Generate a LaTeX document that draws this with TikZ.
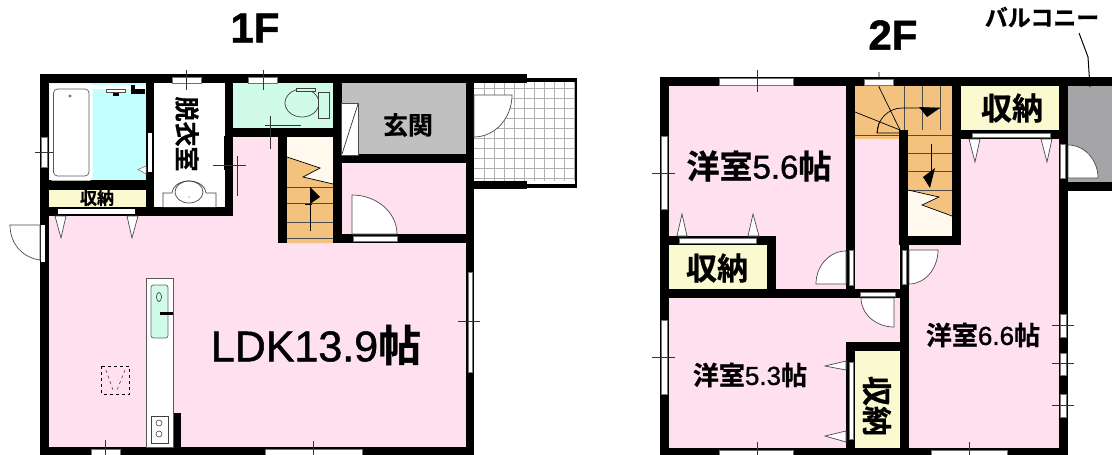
\documentclass[tikz,border=0pt]{standalone}
\usepackage{fontspec}
\setmainfont{Liberation Sans}
\newfontfamily\jpfont{Noto Sans CJK JP}[BoldFont={Noto Sans CJK JP Bold},BoldFeatures={FakeBold=0.7}]
\newfontfamily\latfont{Liberation Sans}[FakeBold=1.2]
\usetikzlibrary{calc}
\definecolor{pinkroom}{HTML}{FEE0EE}
\definecolor{bathblue}{HTML}{C4FFFF}
\definecolor{toiletgreen}{HTML}{D0FBE8}
\definecolor{creamroom}{HTML}{FBF9CF}
\definecolor{stairorange}{HTML}{F4C27F}
\definecolor{staircream}{HTML}{FFF9EE}
\definecolor{hallgray}{HTML}{C0C0C0}
\definecolor{balcgray}{HTML}{A5A5A8}
\definecolor{tilegray}{HTML}{B0B0B0}
\tikzset{
  wall/.style={fill=black},
  strip/.style={fill=white,draw=black!55,line width=.4pt},
  fine/.style={draw=black!75,line width=.7pt},
  sash/.style={draw=black!80,line width=.8pt},
  leaf/.style={fill=white,draw=black!70,line width=.7pt},
  treadline/.style={draw=black!70,line width=.7pt},
  jp/.style={font=\jpfont\bfseries\fontsize{#1}{#1}\selectfont,inner sep=0pt},
  lat/.style={font=\latfont\fontsize{#1}{#1}\selectfont,inner sep=0pt},
}
\newcommand\doorleaf[6]{%
  \path[leaf] (#1,#2) -- (#3,#4) .. controls ($(#3,#4)+0.55*(#5,#6)-0.55*(#1,#2)$) and ($(#5,#6)+0.55*(#3,#4)-0.55*(#1,#2)$) .. (#5,#6) -- cycle;}
\newcommand\tip[6]{\path[leaf] (#1,#2) -- (#3,#4) -- (#5,#6) -- cycle;}
\begin{document}
\begin{tikzpicture}[x=1pt,y=-1pt]
\useasboundingbox (0,0) rectangle (1112,455);
\fill[white] (0,0) rectangle (1112,455);
% ---------- 1F fills
\fill[pinkroom] (40,216) rectangle (470,450);
\fill[pinkroom] (225,130) rectangle (285,220);
\fill[pinkroom] (338,160) rectangle (470,238);
\fill[bathblue] (49,83) rectangle (146,180);
\fill[white] (154,83) rectangle (225,207);
\fill[toiletgreen] (233,83) rectangle (333,128);
\fill[hallgray] (342,83) rectangle (466,154);
\fill[creamroom] (48,190) rectangle (146,207);
\fill[staircream] (287,137) rectangle (333,190);
\fill[stairorange] (287,157) -- (320,168) -- (303,177) -- (333,184) -- (333,243) -- (287,243) -- cycle;
% tile terrace
\fill[white] (474,80) rectangle (577,186);
\foreach \gx in {484,494,...,574} \draw[tilegray,line width=.7pt] (\gx,82) -- (\gx,181);
\foreach \gy in {88,98,...,178} \draw[tilegray,line width=.7pt] (474,\gy) -- (575,\gy);
% ---------- 1F walls
\fill[wall] (40,74) rectangle (527,83);
\fill[wall] (527,78) rectangle (577,82);
\fill[wall] (575,78) rectangle (577,188);
\fill[wall] (527,184) rectangle (577,188);
\fill[wall] (474,181) rectangle (527,189);
\fill[wall] (466,74) rectangle (474,455);
\fill[wall] (40,74) rectangle (49,455);
\fill[wall] (40,447) rectangle (474,455);
\fill[wall] (40,180) rectangle (154,190);
\fill[wall] (40,207) rectangle (233,216);
\fill[wall] (146,74) rectangle (154,216);
\fill[wall] (225,74) rectangle (233,216);
\fill[wall] (224,136) rectangle (233,170);
\fill[wall] (225,128) rectangle (342,137);
\fill[wall] (333,74) rectangle (342,243);
\fill[wall] (335,154) rectangle (466,163);
\fill[wall] (335,234) rectangle (474,243);
\fill[wall] (278,137) rectangle (287,243);
\fill[wall] (173,413) rectangle (181,447);
% ---------- 1F stairs
\draw[treadline,draw=black] (287,157) -- (320,168) -- (303,177) -- (333,184);
\foreach \ty in {187,203,222,238} \draw[treadline] (287,\ty) -- (333,\ty);
\draw[black,line width=.8pt] (310,187) -- (310,231);
\fill[black] (310,187) -- (320,197) -- (310,204) -- cycle;
\draw[black,line width=.8pt] (305,204) -- (312,204);
% ---------- 1F bath
\draw[white,line width=1pt,fill=white,rounded corners=2pt] (50,84) rectangle (92,180);
\draw[black!65,line width=.7pt,rounded corners=4pt] (53.5,89) rectangle (89,176);
\fill[black!55] (70,96) circle (1.6);
\fill[white] (92,85) rectangle (146,89);
\fill[black] (113,90) rectangle (119,96);
\draw[black!70,fill=white,line width=.5pt] (106,89) rectangle (125,92);
\fill[black] (131,85) rectangle (145,94);
\fill[white] (135,85) rectangle (145,89);
\fill[white] (148,133) rectangle (152,172);
\path[fill=white,draw=black!60,line width=.5pt] (146,166) -- (138,169.5) -- (146,174) -- cycle;
\fill[white] (58,209) rectangle (135,214);
% window strips 1F
\path[strip] (172,77) rectangle (201,83);
\path[strip] (248,77) rectangle (277,83);
\path[strip] (41,137) rectangle (47,167);
\draw[sash] (186,70) -- (186,90);
\draw[sash] (263,70) -- (263,90);
\draw[sash] (35,152) -- (53,152);
\draw[sash] (270,116) -- (270,149);
\draw[sash] (265,125) -- (301,125);
\draw[sash] (213,165) -- (246,165);
\draw[sash] (237,156) -- (237,196);
% washbasin
\draw[fine,fill=white] (163,207) -- (163,193) -- (172,193) .. controls (174,177) and (204,177) .. (206,193) -- (216,193) -- (216,207);
\draw[fine] (189,192) ellipse (14 and 11);
\fill[black!70] (189,197) circle (.6);
% toilet
\draw[fine,fill=toiletgreen] (302,103) ellipse (17 and 14);
\draw[fine,fill=toiletgreen] (318,92) rectangle (329,118);
\draw[fine,fill=toiletgreen] (296,88) rectangle (315,91);
% shoe rack
\draw[black!70,line width=.6pt,fill=white] (341,103) rectangle (358,155);
\draw[black!80,line width=.7pt] (358,104) -- (342,154);
% doors 1F
\doorleaf{474}{95}{512}{95}{474}{137}
\path[strip] (353,236) rectangle (397,241);
\doorleaf{352}{234}{352}{195}{397}{234}
\fill[white] (41,225) rectangle (45,262);
\path[leaf] (40,225) -- (10,225) .. controls (10,245) and (24,258) .. (40,260) -- cycle;
% closet door tips 1F
\tip{55}{216}{66}{216}{61}{238}
\tip{127}{216}{138}{216}{132}{238}
% right and bottom windows 1F
\path[strip] (468,272) rectangle (472,372);
\draw[sash] (458,321) -- (480,321);
\path[strip] (91,449) rectangle (120,455);
\draw[sash] (105.5,440) -- (105.5,455);
\path[strip] (265,449) rectangle (362,455);
\draw[sash] (313,441) -- (313,455);
% kitchen
\draw[black!65,line width=.8pt,fill=white] (146,278) rectangle (173,447);
\draw[black!60,line width=.7pt,fill=toiletgreen,rounded corners=2.5pt] (151,285) rectangle (168,338);
\draw[fine] (159,297) ellipse (2.5 and 4.5);
\draw[black,line width=3pt] (160,313) -- (173,313);
\draw[black!75,line width=.8pt] (151,416) rectangle (168,443);
\draw[black!75,line width=.6pt] (159,423) circle (3);
\draw[black!75,line width=.6pt] (159,434) circle (3);
\draw[black,dashed,line width=1pt] (101.5,366) rectangle (129,394);
\draw[black!70,dashed,line width=.6pt] (106,370) -- (113,390) (125,370) -- (117,390);
% ---------- 2F fills
\fill[pinkroom] (669,86) rectangle (846,290);
\fill[pinkroom] (669,298) rectangle (900,448);
\fill[pinkroom] (855,139) rectangle (899,290);
\fill[pinkroom] (909,245) rectangle (1059,448);
\fill[pinkroom] (961,139) rectangle (1059,250);
\fill[creamroom] (669,245) rectangle (767,289);
\fill[creamroom] (961,86) rectangle (1059,130);
\fill[creamroom] (855,351) rectangle (900,448);
\fill[balcgray] (1068,86) rectangle (1112,182);
\fill[stairorange] (855,86) rectangle (952,139);
\fill[staircream] (908,185) rectangle (952,236);
\fill[stairorange] (908,135) -- (952,135) -- (952,216) -- (922,205) -- (939,197) -- (908,190) -- cycle;
% ---------- 2F walls
\fill[wall] (660,77) rectangle (1112,86);
\fill[wall] (660,77) rectangle (669,455);
\fill[wall] (660,448) rectangle (1068,455);
\fill[wall] (846,77) rectangle (855,298);
\fill[wall] (899,130) rectangle (908,245);
\fill[wall] (900,236) rectangle (961,245);
\fill[wall] (900,245) rectangle (909,455);
\fill[wall] (952,77) rectangle (961,245);
\fill[wall] (952,130) rectangle (1068,139);
\fill[wall] (1059,77) rectangle (1068,455);
\fill[wall] (1068,182) rectangle (1112,191);
\fill[wall] (660,236) rectangle (776,245);
\fill[wall] (767,236) rectangle (776,298);
\fill[wall] (660,289) rectangle (909,298);
\fill[wall] (846,342) rectangle (855,455);
\fill[wall] (846,342) rectangle (909,351);
% ---------- 2F stairs
\draw[treadline] (855,135) -- (899,135);
\foreach \ty in {135,153,171,190} \draw[treadline] (908,\ty) -- (952,\ty);
\foreach \tx in {904,922,940} \draw[treadline] (\tx,86) -- (\tx,130);
\draw[black,line width=.7pt] (879,72) -- (879,87) -- (900,130);
\draw[black,line width=.7pt] (855,112) -- (900,130);
\draw[black,line width=.7pt] (879,123) -- (877,133) -- (899,133);
\draw[black,line width=.7pt] (877,133) .. controls (877,120) and (888,108) .. (902,108) -- (940,108);
\fill[black] (919,107) -- (940,108) -- (927,117) -- cycle;
\draw[black,line width=.7pt] (931,144) -- (931,172);
\fill[black] (935,168) -- (923,177) -- (930,188) -- cycle;
\draw[black,line width=.7pt] (908,190) -- (939,197) -- (922,205) -- (952,216);
% windows 2F
\path[strip] (719,78) rectangle (793,85);
\draw[sash] (757,70) -- (757,92);
\path[strip] (864,79) rectangle (893,85);
\path[strip] (661,136) rectangle (667,209);
\draw[sash] (652,173) -- (675,173);
\path[strip] (661,320) rectangle (667,394);
\draw[sash] (652,357) -- (675,357);
\path[strip] (719,450) rectangle (793,455);
\draw[sash] (757,442) -- (757,455);
\path[strip] (931,450) rectangle (1007,455);
\draw[sash] (969,442) -- (969,455);
\foreach \ya/\yb/\yc in {314/337/325,353/375/363,394/417/405}{
  \path[strip] (1060,\ya) rectangle (1066,\yb);
  \draw[sash] (1052,\yc) -- (1074,\yc);
}
% closet strips and tips 2F
\path[strip] (679,238) rectangle (756,243);
\tip{677}{236}{687}{236}{682}{214}
\tip{748}{236}{759}{236}{753}{214}
\path[strip] (972,133) rectangle (1050,137);
\tip{969}{139}{980}{139}{975}{162}
\tip{1041}{139}{1052}{139}{1047}{162}
\path[strip] (849,362) rectangle (853,439);
\tip{846}{361}{846}{370}{825}{366}
\tip{846}{431}{846}{442}{825}{436}
% doors 2F
\path[strip] (849,250) rectangle (853,285);
\doorleaf{846}{284}{846}{251}{816}{284}
\path[strip] (902,250) rectangle (906,284);
\doorleaf{909}{250}{938}{250}{909}{284}
\path[strip] (860,292) rectangle (895,296);
\doorleaf{894}{298}{861}{298}{894}{327}
\path[strip] (1060,144) rectangle (1065,178);
\doorleaf{1068}{178}{1068}{145}{1098}{178}
% balcony leader
\coordinate (balcend) at (1090,87);
\node[jp=23] (balctext) at (1042,17) {バルコニー};
\draw[black,line width=1pt] (1079,33) -- (1088,57) -- (balcend);
% ---------- labels
\node[inner sep=0pt,font=\latfont\bfseries\fontsize{42}{42}\selectfont] (oneF) at (255,28) {1F};
\node[inner sep=0pt,font=\latfont\bfseries\fontsize{42}{42}\selectfont] (twoF) at (893,35) {2F};
\node[lat=43] (ldk) at (316,345) {LDK13.9{\jpfont\bfseries 帖}};
\node[jp=25,rotate=-90] (dressing) at (187,134) {脱衣室};
\node[jp=17] (storeA) at (97,198) {収納};
\node[jp=25] (genkan) at (408,125) {玄関};
\node[jp=31] (storeB) at (717,268) {収納};
\node[jp=31] (storeC) at (1012,108) {収納};
\node[jp=30,rotate=-90] (storeD) at (877,406) {収納};
\node[lat=33] (roomA) at (759,166) {{\jpfont\bfseries 洋室}5.6{\jpfont\bfseries 帖}};
\node[lat=26] (roomB) at (750,375) {{\jpfont\bfseries 洋室}5.3{\jpfont\bfseries 帖}};
\node[lat=26] (roomC) at (983,335) {{\jpfont\bfseries 洋室}6.6{\jpfont\bfseries 帖}};
\end{tikzpicture}
\end{document}
